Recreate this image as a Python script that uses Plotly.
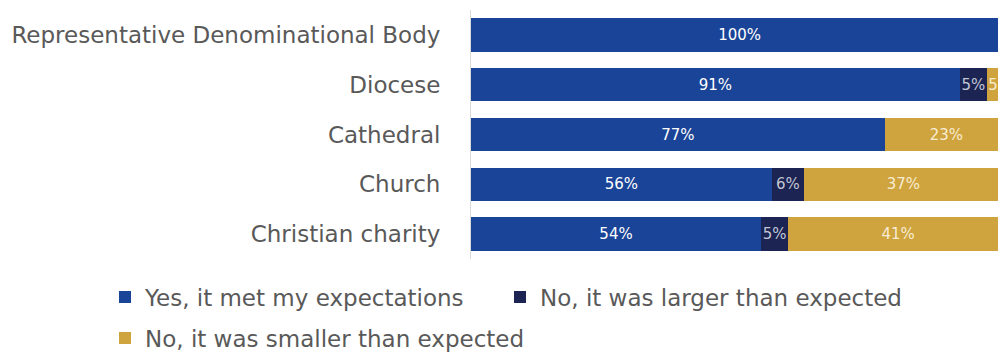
import plotly.graph_objects as go

categories = [
    "Representative Denominational Body",
    "Diocese",
    "Cathedral",
    "Church",
    "Christian charity",
]
met_expectations = [100, 91, 77, 56, 54]
larger_than_expected = [0, 5, 0, 6, 5]
smaller_than_expected = [0, 5, 23, 37, 41]

# name, values, bar colour, label colour, legend id
series = [
    ("Yes, it met my expectations", met_expectations, "#1a4497", "#ffffff", "legend"),
    ("No, it was larger than expected", larger_than_expected, "#1b2453", "#c3c6d4", "legend2"),
    ("No, it was smaller than expected", smaller_than_expected, "#cfa33d", "#f7ecd2", "legend3"),
]

FONT = "DejaVu Sans"
TEXT_GREY = "#595959"

fig = go.Figure()
for name, values, color, text_color, legend_id in series:
    fig.add_trace(go.Bar(
        name=name,
        y=categories,
        x=values,
        orientation="h",
        legend=legend_id,
        marker=dict(color=color, line=dict(width=0)),
        text=[f"{v}%" if v > 0 else "" for v in values],
        textposition="inside",
        insidetextanchor="middle",
        textangle=0,
        textfont=dict(family=FONT, size=15, color=text_color),
        cliponaxis=True,
    ))

legend_common = dict(
    orientation="h",
    xanchor="left",
    yanchor="middle",
    font=dict(family=FONT, size=23, color=TEXT_GREY),
    itemwidth=30,
    traceorder="normal",
    bgcolor="rgba(0,0,0,0)",
)

plot_left, plot_right = 471, 998
plot_top, plot_bottom = 10, 259
plot_w = plot_right - plot_left
plot_h = plot_bottom - plot_top


def legend_x(pixel_x):
    return (pixel_x - plot_left) / plot_w


def legend_y(pixel_y):
    return (plot_bottom - pixel_y) / plot_h


fig.update_layout(
    width=998,
    height=354,
    barmode="stack",
    bargap=0.33,
    plot_bgcolor="white",
    paper_bgcolor="white",
    margin=dict(l=plot_left, r=998 - plot_right, t=plot_top, b=354 - plot_bottom,
                autoexpand=False),
    uniformtext=dict(minsize=15, mode="show"),
    font=dict(family=FONT, color=TEXT_GREY),
    legend=dict(legend_common, x=legend_x(105), y=legend_y(297)),
    legend2=dict(legend_common, x=legend_x(500), y=legend_y(297)),
    legend3=dict(legend_common, x=legend_x(105), y=legend_y(338)),
    showlegend=True,
)
fig.update_xaxes(
    range=[0, 98.1],
    showgrid=False,
    showticklabels=False,
    zeroline=False,
    showline=False,
    fixedrange=True,
)
fig.update_yaxes(
    autorange="reversed",
    showgrid=False,
    showline=True,
    linecolor="#d9d9d9",
    linewidth=1,
    ticks="",
    ticklabelstandoff=25,
    tickfont=dict(family=FONT, size=23, color=TEXT_GREY),
)

fig.write_html("out.html")
